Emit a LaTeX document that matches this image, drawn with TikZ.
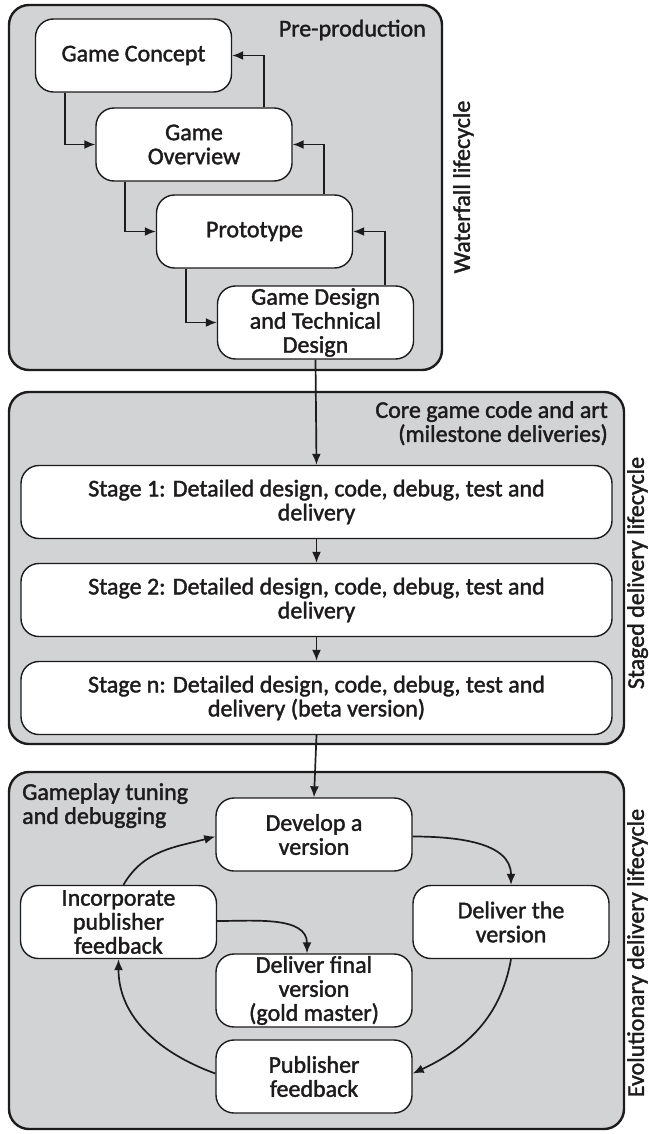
\documentclass[tikz,border=0pt]{standalone}
\usepackage{fontspec}
\setmainfont{Carlito}[FakeBold=1.6]
\usetikzlibrary{arrows.meta}
\definecolor{panelgray}{RGB}{209,211,212}
\definecolor{ink}{RGB}{30,27,28}
\begin{document}
\begin{tikzpicture}[x=1pt,y=-1pt,
  panel/.style={draw=ink, line width=2.4pt, fill=panelgray, rounded corners=20pt},
  stepbox/.style={draw=ink, line width=1.4pt, fill=white, rounded corners=18pt,
    align=center, inner sep=0pt, text=ink, font=\fontsize{24}{24}\selectfont,
    minimum width=196pt, minimum height=73pt},
  widebox/.style={stepbox, minimum width=591pt, minimum height=73pt},
  lbl/.style={text=ink, font=\fontsize{24}{24}\selectfont, inner sep=0pt},
  link/.style={draw=ink, line width=1.7pt, -{Latex[length=11pt,width=9pt]}},
]
\useasboundingbox (0,0) rectangle (648,1134);

% the three phase panels
\draw[panel] (9,5) rectangle (442,370);
\draw[panel] (9,392) rectangle (624,744);
\draw[panel] (9,772) rectangle (624,1129);

% panel titles and side captions
\node[lbl, anchor=east] (pre) at (426,30) {Pre-production};
\node[lbl, anchor=north east, align=right] (core) at (608,401) {Core game code and art\\(milestone deliveries)};
\node[lbl, anchor=north west, align=left] (tune) at (22,783) {Gameplay tuning\\and debugging};
\node[lbl, rotate=90, anchor=north] (wf) at (453,187) {Waterfall lifecycle};
\node[lbl, rotate=90, anchor=north] (sd) at (627,573) {Staged delivery lifecycle};
\node[lbl, rotate=90, anchor=north] (ev) at (627,953) {Evolutionary delivery lifecycle};

% waterfall steps
\node[stepbox] (concept) at (133.5,55.5) {Game Concept};
\node[stepbox] (overview) at (194,144.5) {Game\\Overview};
\node[stepbox] (proto) at (254.5,231.5) {Prototype};
\node[stepbox] (gdd) at (315.5,322.5) {Game Design\\and Technical\\Design};

\draw[link] ([xshift=30pt]concept.south west) |- (overview.west);
\draw[link] ([xshift=30pt]overview.south west) |- (proto.west);
\draw[link] ([xshift=30pt]proto.south west) |- (gdd.west);
\draw[link] ([xshift=-29pt]overview.north east) |- (concept.east);
\draw[link] ([xshift=-29pt]proto.north east) |- (overview.east);
\draw[link] ([xshift=-29pt]gdd.north east) |- (proto.east);

% staged deliveries
\node[widebox] (s1) at (316.5,502) {Stage 1: Detailed design, code, debug, test and\\delivery};
\node[widebox] (s2) at (316.5,600) {Stage 2: Detailed design, code, debug, test and\\delivery};
\node[widebox] (sn) at (316.5,698) {Stage n: Detailed design, code, debug, test and\\delivery (beta version)};

\draw[link] (gdd.south) -- (s1.north);
\draw[link] (s1) -- (s2);
\draw[link] (s2) -- (sn);

% evolutionary loop
\node[stepbox] (dev) at (314,834.5) {Develop a\\version};
\node[stepbox] (deliver) at (511,922) {Deliver the\\version};
\node[stepbox] (incorp) at (118.5,922) {Incorporate\\publisher\\feedback};
\node[stepbox] (final) at (314,990.5) {Deliver final\\version\\(gold master)};
\node[stepbox] (pub) at (314,1076.5) {Publisher\\feedback};

\draw[link] (sn.south) -- (dev.north);
\draw[link] ([yshift=-2pt]dev.east) to[out=0,in=90] (deliver.north);
\draw[link] (deliver.south) to[out=-100,in=25] ([yshift=3pt]pub.east);
\draw[link] ([yshift=3pt]pub.west) to[out=160,in=-90] (incorp.south);
\draw[link] ([xshift=5pt]incorp.north) to[out=60,in=195] ([yshift=-2pt]dev.west);
\draw[link] ([yshift=1pt]incorp.east) to[out=0,in=90] ([xshift=-7pt]final.north);
\end{tikzpicture}
\end{document}
